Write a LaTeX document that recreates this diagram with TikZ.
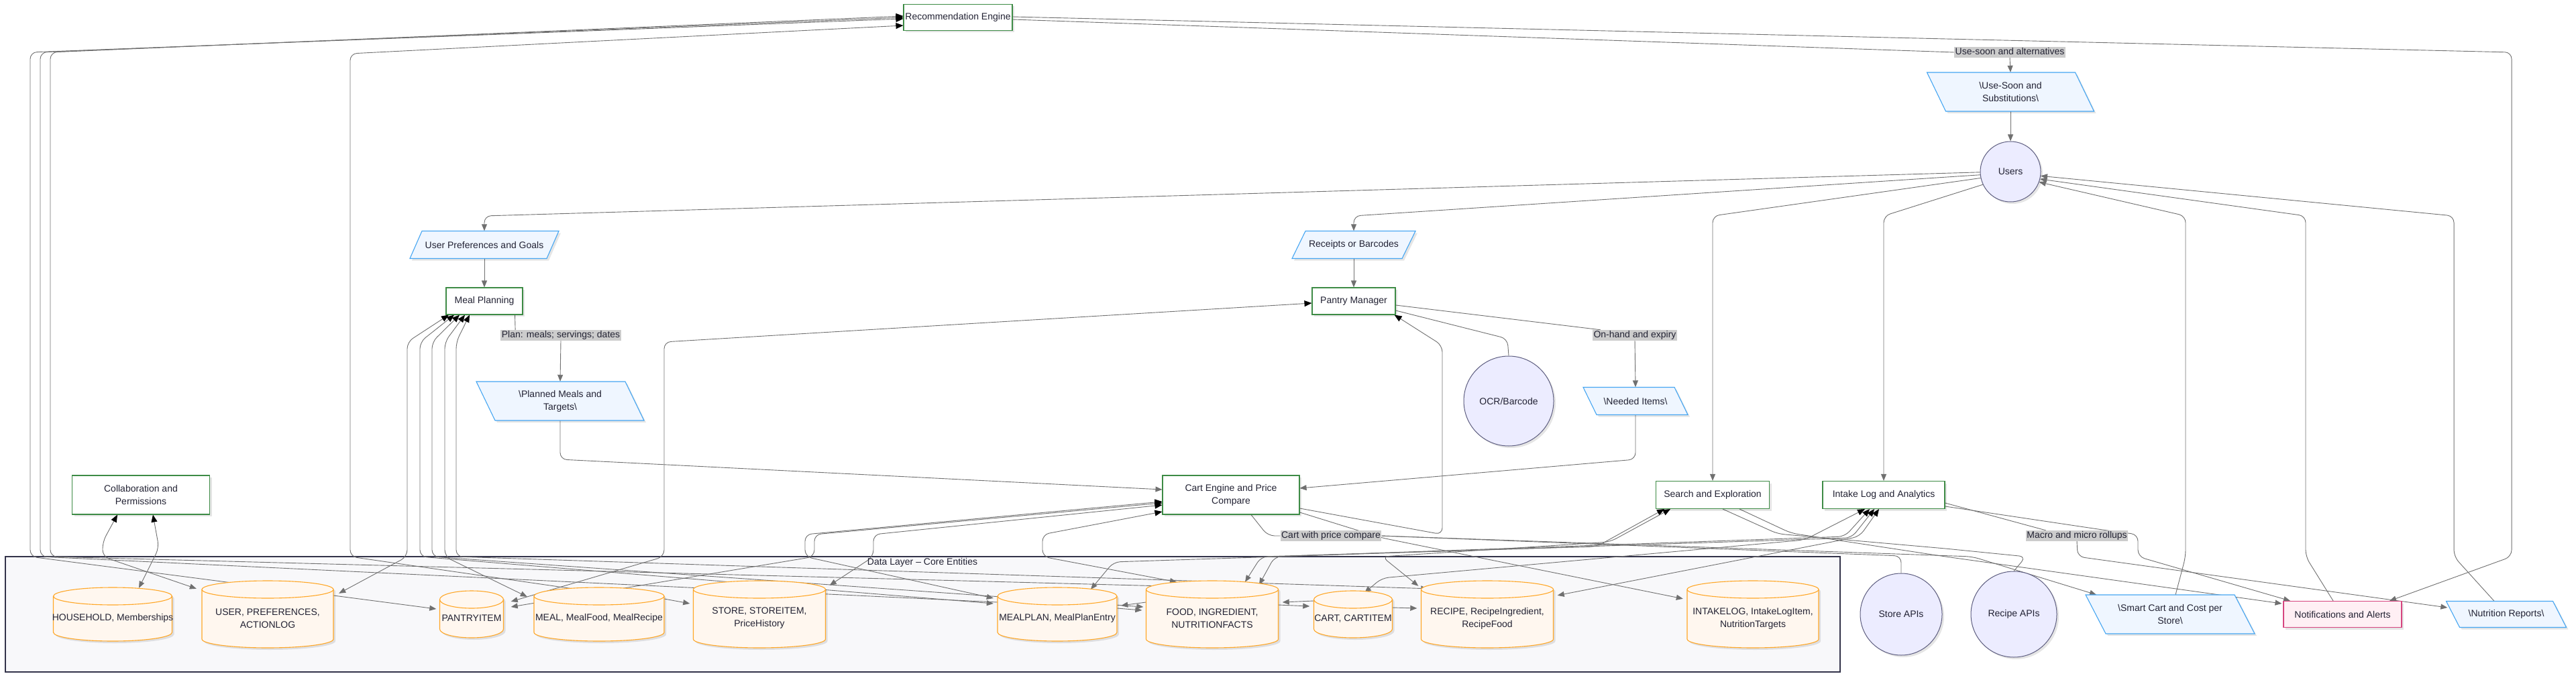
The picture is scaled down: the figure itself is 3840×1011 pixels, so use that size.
\documentclass[tikz,border=0pt]{standalone}
\usepackage{fontspec}
\setmainfont{Liberation Sans}
\usetikzlibrary{arrows.meta,calc,shadows}
\pgfdeclarelayer{bg}
\pgfdeclarelayer{edges}
\pgfsetlayers{bg,edges,main}
\definecolor{eg}{HTML}{707070}
\definecolor{modb}{HTML}{3D8B45}
\definecolor{iob}{HTML}{45A6F2}
\definecolor{iof}{HTML}{EFF6FF}
\definecolor{dbb}{HTML}{FFA726}
\definecolor{dbf}{HTML}{FFF7EF}
\definecolor{extb}{HTML}{5E5E80}
\definecolor{extf}{HTML}{ECECFF}
\definecolor{ntb}{HTML}{D6457F}
\definecolor{ntf}{HTML}{FFEFF4}
\definecolor{lblf}{HTML}{CCCCCC}
\definecolor{txt}{HTML}{222233}
\definecolor{layb}{HTML}{33334A}
\definecolor{layf}{HTML}{F8F8FA}
\tikzset{
 every node/.style={font=\fontsize{14}{19}\selectfont, text=txt},
 shd/.style={drop shadow={shadow xshift=3pt,shadow yshift=-3pt,opacity=0.10,fill=black}},
 modbox/.style={draw=modb, line width=1.1pt, fill=white, shd, align=center, inner sep=0pt},
 extnode/.style={circle, draw=extb, line width=1pt, fill=extf, shd, inner sep=0pt, align=center},
 notebox/.style={draw=ntb, line width=1.1pt, fill=ntf, shd, align=center, inner sep=0pt},
 iotext/.style={align=center, inner sep=0pt},
 iopath/.style={draw=iob, line width=1.1pt, fill=iof, shd},
 dbpath/.style={draw=dbb, line width=1.1pt, fill=dbf, shd},
 dbtext/.style={align=center, inner sep=0pt},
 elabel/.style={fill=lblf, inner sep=1.5pt, text height=10pt, text depth=3pt},
 conn/.style={draw=eg, line width=0.9pt, rounded corners=10pt},
 ga/.style={conn, -{Triangle[length=10pt,width=8pt,fill=eg,color=eg]}},
 tomod/.style={conn, -{Triangle[length=11pt,width=9pt,fill=black,color=black]}},
 bi/.style={conn, {Triangle[length=11pt,width=9pt,fill=black,color=black]}-{Triangle[length=10pt,width=8pt,fill=eg,color=eg]}},
}
% name, cx, cy (pixels, down), w, h, slant (top shift right), text
\newcommand\iobox[7]{%
 \path[iopath] ({#2-#4/2+(#6)/2},{-#3+#5/2}) -- ({#2+#4/2+(#6)/2},{-#3+#5/2}) -- ({#2+#4/2-(#6)/2},{-#3-#5/2}) -- ({#2-#4/2-(#6)/2},{-#3-#5/2}) -- cycle;
 \node[iotext, minimum width=#4pt, minimum height=#5pt] (#1) at (#2,-#3) {#7};
}
% name, cx, cy, w, h, text
\newcommand\dbcyl[6]{%
 \path[dbpath] ({#2-#4/2},{-#3+#5/2-13}) -- ({#2-#4/2},{-#3-#5/2+13}) arc[start angle=180,end angle=360,x radius={#4/2},y radius=13] -- ({#2+#4/2},{-#3+#5/2-13}) arc[start angle=0,end angle=180,x radius={#4/2},y radius=13] -- cycle;
 \draw[draw=dbb,line width=1.1pt] ({#2-#4/2},{-#3+#5/2-13}) arc[start angle=180,end angle=360,x radius={#4/2},y radius=13];
 \node[minimum width=#4pt, minimum height=#5pt, inner sep=0pt] (#1) at (#2,-#3) {};
 \node[dbtext] (#1t) at (#2,{-#3-6}) {#6};
}
\begin{document}
\begin{tikzpicture}[x=1pt,y=1pt]
\useasboundingbox (0,0) rectangle (3840,-1011);
\begin{pgfonlayer}{bg}
\fill[white] (0,0) rectangle (3840,-1011);
\path[draw=layb,line width=2pt,fill=layf] (8,-830) rectangle (2743,-1002);
\end{pgfonlayer}
\node (DLT) at (1375,-839) {Data Layer – Core Entities};

% ---------- nodes ----------
\node[modbox,minimum width=162pt,minimum height=39pt] (RE) at (1428,-26) {Recommendation Engine};
\node[elabel] (UseLbl) at (2996,-78) {Use-soon and alternatives};
\iobox{UseSoon}{2997}{137}{221}{58}{-28}{\textbackslash Use-Soon and\\Substitutions\textbackslash}
\node[extnode,minimum size=90pt] (Users) at (2997,-256) {Users};
\iobox{UP}{722}{365}{204}{41}{18}{User Preferences and Goals}
\iobox{Receipts}{2018}{365}{164}{41}{20}{Receipts or Barcodes}
\node[modbox,minimum width=114pt,minimum height=40pt] (MP) at (722,-449) {Meal Planning};
\node[modbox,minimum width=124pt,minimum height=40pt] (PM) at (2018,-449) {Pantry Manager};
\node[elabel] (PlanLbl) at (836,-500) {Plan: meals; servings; dates};
\node[elabel] (OnLbl) at (2437,-500) {On-hand and expiry};
\iobox{Planned}{835}{598}{222}{58}{-28}{\textbackslash Planned Meals and\\Targets\textbackslash}
\node[extnode,minimum size=134pt] (OCR) at (2249,-598) {OCR/Barcode};
\iobox{Needed}{2438}{598}{136}{41}{-20}{\textbackslash Needed Items\textbackslash}
\node[modbox,minimum width=205pt,minimum height=58pt] (Collab) at (210,-738) {Collaboration and\\Permissions};
\node[modbox,minimum width=204pt,minimum height=58pt] (CartE) at (1835,-738) {Cart Engine and Price\\Compare};
\node[modbox,minimum width=169pt,minimum height=41pt] (Search) at (2553,-738) {Search and Exploration};
\node[modbox,minimum width=182pt,minimum height=41pt] (Intake) at (2808,-738) {Intake Log and Analytics};
\node[elabel] (CartLbl) at (1984,-799) {Cart with price compare};
\node[elabel] (MacroLbl) at (3096,-799) {Macro and micro rollups};

\dbcyl{HOUSE}{168}{916}{177}{80}{HOUSEHOLD, Memberships}
\dbcyl{USER}{399}{916}{196}{100}{USER, PREFERENCES,\\ACTIONLOG}
\dbcyl{PANTRY}{703}{916}{95}{70}{PANTRYITEM}
\dbcyl{MEAL}{893}{916}{194}{80}{MEAL, MealFood, MealRecipe}
\dbcyl{STORE}{1132}{916}{197}{100}{STORE, STOREITEM,\\PriceHistory}
\dbcyl{MEALPLAN}{1576}{916}{178}{80}{MEALPLAN, MealPlanEntry}
\dbcyl{FOOD}{1807}{916}{197}{100}{FOOD, INGREDIENT,\\NUTRITIONFACTS}
\dbcyl{CART}{2017}{916}{117}{70}{CART, CARTITEM}
\dbcyl{RECIPE}{2217}{916}{197}{100}{RECIPE, RecipeIngredient,\\RecipeFood}
\dbcyl{INTAKELOG}{2613}{916}{196}{100}{INTAKELOG, IntakeLogItem,\\NutritionTargets}

\node[extnode,minimum size=122pt] (StoreAPI) at (2834,-916) {Store APIs};
\node[extnode,minimum size=128pt] (RecipeAPI) at (3002,-916) {Recipe APIs};
\iobox{SmartCart}{3235}{916}{222}{58}{-30}{\textbackslash Smart Cart and Cost per\\Store\textbackslash}
\node[notebox,minimum width=176pt,minimum height=39pt] (Notif) at (3492,-916) {Notifications and Alerts};
\iobox{NutRep}{3736}{916}{159}{39}{-20}{\textbackslash Nutrition Reports\textbackslash}

% ---------- edges ----------
\begin{pgfonlayer}{edges}
\draw[conn] ($(RE.east)+(0,-3)$) -- (UseLbl.west);
\draw[ga] (UseLbl.south) -- (UseSoon.north);
\draw[ga] (UseSoon.south) -- (Users.north);
\draw[ga] ($(RE.east)+(0,1)$) -- (3744,-78) -- (3744,-830) -- ($(Notif.north)+(70,0)$);
\draw[ga] (Users.181) -- (722,-322) -- (UP.north);
\draw[ga] (Users.186) -- (2018,-322) -- (Receipts.north);
\draw[ga] (Users.192) -- (2553,-322) -- (Search.north);
\draw[ga] (Users.205) -- (2808,-322) -- (Intake.north);
\draw[ga] (UP.south) -- (MP.north);
\draw[ga] (Receipts.south) -- (PM.north);
\draw[conn] ($(MP.south east)+(-12,0)$) -- ($(PlanLbl.north west)+(22,0)$);
\draw[ga] (PlanLbl.south) -- (Planned.north);
\draw[conn] ($(PM.east)+(0,-6)$) -- ($(OnLbl.north west)+(12,0)$);
\draw[ga] (OnLbl.south) -- (Needed.north);
\draw[ga] (Planned.south) -- (835,-685) -- ($(CartE.west)+(0,8)$);
\draw[ga] (Needed.south) -- (2438,-685) -- ($(CartE.east)+(0,10)$);
\draw[conn] (OCR.north) -- (2247,-505) -- ($(PM.east)+(0,-14)$);
\draw[tomod] ($(CartE.east)+(0,-20)$) -- (2150,-797) -- (2150,-515) -- ($(PM.south east)+(-2,0)$);
\draw[ga] ($(CartE.east)+(0,-26)$) -- (2060,-802) -- (2198,-830) -- ($(INTAKELOG.north west)+(-6,-27)$);
\draw[conn] ($(CartE.south)+(30,0)$) -- (1890,-799) -- (CartLbl.west);
\draw[ga] (CartLbl.east) -- (2940,-830) -- ($(SmartCart.north)+(-110,0)$);
\draw[conn] (StoreAPI.north) -- (2834,-829) -- (CartLbl.east);
\draw[conn] (RecipeAPI.north) -- (3020,-830) -- (2900,-818) -- (2650,-796) -- ($(Search.south)+(15,0)$);
\draw[ga] ($(Search.south)+(40,0)$) -- (2670,-795) -- (2900,-830) -- ($(Notif.west)+(-2,16)$);
\draw[conn] ($(Intake.east)+(0,-12)$) -- ($(MacroLbl.north west)+(30,0)$);
\draw[ga] (MacroLbl.south) -- (3097,-830) -- ($(NutRep.west)+(-8,10)$);
\draw[ga] ($(Intake.east)+(0,-17)$) -- (3134,-790) -- (3187,-797) -- (3187,-830) -- ($(Notif.north)+(-78,0)$);
\draw[ga] ($(SmartCart.north)+(8,0)$) -- (3258,-830) -- (3258,-322) -- (Users.340);
\draw[ga] ($(Notif.north)+(-14,0)$) -- (3437,-830) -- (3437,-322) -- (Users.346);
\draw[ga] ($(NutRep.north)+(-18,0)$) -- (3658,-830) -- (3658,-322) -- (Users.352);
% collaboration
\draw[bi] ($(Collab.south)+(18,0)$) -- (237,-817) -- ($(HOUSE.north)+(39,-1)$);
\draw[bi] ($(Collab.south)+(-35,0)$) -- (153,-808) -- (153,-830) -- ($(USER.north west)+(-8,-12)$);
% recommendation engine inputs
\draw[tomod] ($(USER.north)+(-55,-3)$) -- (45,-830) -- (45,-78) -- ($(RE.west)+(0,-2)$);
\draw[tomod] ($(MEALPLAN.west)+(0,18)$) -- (60,-830) -- (60,-78) -- ($(RE.west)+(0,0)$);
\draw[tomod] ($(FOOD.north west)+(20,-8)$) -- (75,-830) -- (75,-78) -- ($(RE.west)+(0,2)$);
\draw[tomod] ($(MEAL.north)+(-40,-2)$) -- (522,-830) -- (522,-80) -- ($(RE.west)+(0,-12)$);
% meal planning
\draw[bi] ($(MP.south)+(-53,0)$) -- (607,-510) -- (607,-830) -- ($(USER.north east)+(8,-19)$);
\draw[bi] ($(MP.south)+(-45,0)$) -- (626,-510) -- (626,-830) -- ($(MEALPLAN.west)+(-6,16)$);
\draw[bi] ($(MP.south)+(-37,0)$) -- (644,-510) -- (644,-830) -- ($(FOOD.west)+(-4,11)$);
\draw[bi] ($(MP.south)+(-29,0)$) -- (663,-510) -- (663,-830) -- ($(MEAL.north west)+(-10,-14)$);
\draw[bi] ($(MP.south)+(-22,0)$) -- (680,-510) -- (680,-830) -- ($(RECIPE.north west)+(10,-12)$);
% pantry
\draw[bi] ($(PM.west)+(0,-3)$) -- (990,-510) -- (990,-830) -- ($(PANTRY.east)+(11,19)$);
% cart engine
\draw[bi] ($(CartE.west)+(0,-10)$) -- (1200,-797) -- (1200,-830) -- ($(MEALPLAN.west)+(-6,24)$);
\draw[bi] ($(CartE.west)+(0,-12)$) -- (1214,-797) -- (1214,-830) -- ($(PANTRY.east)+(11,11)$);
\draw[bi] ($(CartE.west)+(0,-15)$) -- (1302,-797) -- (1302,-830) -- ($(STORE.north east)+(6,-7)$);
\draw[bi] ($(CartE.west)+(0,-25)$) -- (1554,-797) -- (1554,-830) -- ($(FOOD.north)+(-53,-2)$);
% search
\draw[bi] ($(Search.south)+(-72,0)$) -- (2380,-815) -- (1880,-830) -- ($(FOOD.north)+(49,-2)$);
\draw[bi] ($(Search.south)+(-63,0)$) -- (2400,-808) -- (2060,-830) -- ($(RECIPE.north west)+(-4,-8)$);
% intake
\draw[bi] ($(Intake.south)+(-28,0)$) -- (2690,-805) -- (2060,-862) -- ($(CART.north)+(17,-3)$);
\draw[bi] ($(Intake.south)+(-21,0)$) -- (2750,-800) -- (1900,-830) -- ($(FOOD.north)+(70,-6)$);
\draw[bi] ($(Intake.south)+(-14,0)$) -- (2760,-802) -- (1660,-838) -- ($(MEALPLAN.north)+(50,-3)$);
\draw[bi] ($(Intake.south)+(-7,0)$) -- (2772,-800) -- ($(RECIPE.north east)+(6,-22)$);
% entity relations
\draw[ga] ($(USER.east)+(0,28)$) -- ($(PANTRY.west)+(-5,8)$);
\draw[ga] ($(MEAL.east)+(0,23)$) -- ($(STORE.west)+(-5,16)$);
\draw[ga] ($(FOOD.west)+(0,18)$) -- ($(MEALPLAN.east)+(6,13)$);
\draw[ga] ($(MEALPLAN.east)+(0,9)$) -- ($(FOOD.west)+(-6,6)$);
\draw[ga] ($(CART.west)+(0,20)$) -- ($(FOOD.east)+(6,18)$);
\draw[ga] ($(FOOD.east)+(0,14)$) -- ($(CART.west)+(-6,12)$);
\draw[ga] ($(CART.east)+(0,10)$) -- ($(RECIPE.west)+(-6,9)$);
\end{pgfonlayer}
\end{tikzpicture}
\end{document}
